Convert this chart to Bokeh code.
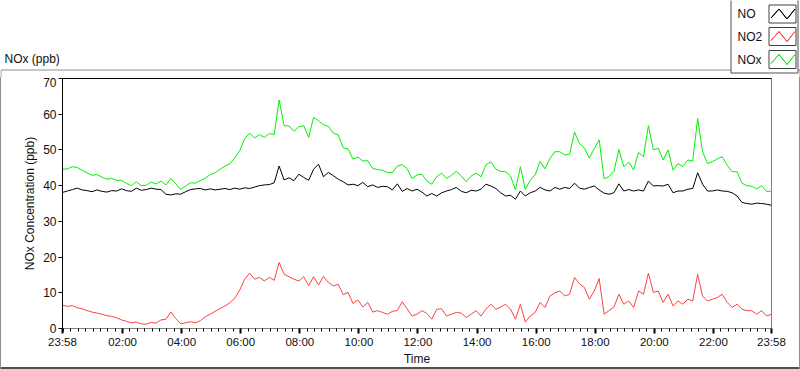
import numpy as np
from bokeh.plotting import figure
from bokeh.layouts import column
from bokeh.models import (Range1d, FixedTicker, LinearAxis, BoxAnnotation,
                          PolyAnnotation, Label)
from bokeh.embed import file_html
from bokeh.resources import INLINE

# ---------------- data ----------------
# one sample every 10 minutes, starting 23:58 (minute 0) to 23:58 next day (minute 1440)
step_minutes = 10

no = [38.1, 38.5, 38.9, 39.3, 38.8, 38.6,
      38.3, 38.8, 38.4, 38.2, 38.6, 38.5,
      39.1, 38.6, 38.4, 39.3, 38.7, 38.9,
      39.3, 39.0, 38.9, 37.6, 37.4, 37.7,
      37.6, 38.3, 38.9, 39.1, 39.2, 38.8,
      39.1, 38.8, 39.0, 39.2, 38.9, 39.3,
      39.0, 39.4, 39.2, 39.6, 40.0, 40.2,
      40.3, 40.8, 45.5, 41.6, 42.2, 41.4,
      43.2, 42.3, 41.5, 44.6, 46.0, 42.5,
      43.7, 42.8, 41.8, 41.1, 40.2, 40.4,
      40.0, 40.9, 39.7, 40.2, 39.5, 39.8,
      39.7, 38.8, 40.5, 38.4, 39.2, 38.5,
      39.0, 38.2, 37.1, 37.8, 37.1, 38.0,
      38.5, 38.9, 39.5, 38.4, 38.0, 38.7,
      38.5, 39.0, 40.4, 39.9, 39.2, 38.0,
      37.1, 37.3, 36.2, 38.5, 37.1, 38.0,
      38.5, 39.5, 38.8, 38.5, 39.5, 39.0,
      39.5, 39.2, 40.7, 39.3, 39.0, 39.5,
      39.9, 38.8, 37.9, 37.6, 38.0, 40.5,
      38.5, 38.9, 38.5, 38.8, 38.5, 41.3,
      39.9, 40.0, 39.9, 40.4, 38.0, 38.5,
      38.5, 39.0, 39.2, 43.6, 40.4, 38.5,
      38.5, 38.8, 38.5, 38.4, 38.0, 37.1,
      35.3, 35.0, 34.8, 35.1, 35.0, 34.8,
      34.5]

no2 = [6.5, 6.2, 6.4, 5.8, 5.5, 5.0,
       4.6, 4.3, 4.0, 3.6, 3.4, 3.0,
       2.4, 2.0, 1.6, 1.8, 1.3, 1.2,
       1.7, 1.5, 2.4, 2.6, 4.6, 2.8,
       1.3, 1.6, 1.9, 1.6, 2.2, 3.3,
       4.0, 4.8, 5.6, 6.3, 7.2, 8.5,
       10.8, 13.8, 15.5, 13.8, 14.3, 13.3,
       14.3, 13.5, 18.5, 15.2, 14.5, 13.8,
       13.3, 14.5, 12.0, 14.5, 12.2, 14.6,
       12.9, 11.9, 12.4, 9.5, 10.1, 7.0,
       8.0, 6.0, 7.3, 4.6, 5.0, 4.5,
       4.0, 4.8, 5.0, 7.5, 5.5, 3.5,
       4.0, 5.0, 4.2, 2.6, 5.4, 5.5,
       3.5, 4.0, 4.5, 4.3, 3.1, 4.0,
       5.0, 3.5, 5.4, 6.8, 5.4, 6.0,
       6.8, 5.4, 2.6, 6.8, 1.8, 3.5,
       4.5, 7.3, 5.9, 9.1, 10.0, 10.5,
       9.1, 9.6, 14.3, 12.5, 11.5, 8.2,
       10.5, 14.0, 4.0, 5.0, 6.0, 9.6,
       6.8, 7.7, 5.9, 10.5, 9.6, 15.5,
       10.1, 10.5, 7.3, 9.6, 6.3, 7.7,
       6.8, 8.2, 7.7, 15.2, 9.1, 7.7,
       8.2, 8.7, 9.6, 7.3, 5.9, 6.8,
       5.4, 5.0, 5.0, 4.0, 5.0, 3.5,
       4.0]

nox = [44.6, 44.7, 45.3, 45.1, 44.3, 43.6,
       42.9, 43.1, 42.4, 41.8, 42.0, 41.5,
       41.5, 40.6, 40.0, 41.1, 40.0, 40.1,
       41.0, 40.5, 41.3, 40.2, 42.0, 40.5,
       38.9, 39.9, 40.8, 40.7, 41.4, 42.1,
       43.1, 43.6, 44.6, 45.5, 46.1, 47.8,
       49.8, 53.2, 54.7, 53.4, 54.3, 53.5,
       54.6, 54.3, 64.0, 56.8, 56.7, 55.2,
       56.5, 56.8, 53.5, 59.1, 58.2, 57.1,
       56.6, 54.7, 54.2, 50.6, 50.3, 47.4,
       48.0, 46.9, 47.0, 44.8, 44.5, 44.3,
       43.7, 43.6, 45.5, 45.9, 44.7, 42.0,
       43.0, 43.2, 41.3, 40.4, 42.5, 43.5,
       42.0, 42.9, 44.0, 42.7, 41.1, 42.7,
       43.5, 42.5, 45.8, 46.7, 44.6, 44.0,
       43.9, 42.7, 38.8, 45.3, 38.9, 41.5,
       43.0, 46.8, 44.7, 47.6, 49.5, 49.5,
       48.6, 48.8, 55.0, 51.8, 50.5, 47.7,
       50.4, 52.8, 41.9, 42.6, 44.0, 50.1,
       45.3, 46.6, 44.4, 49.3, 48.1, 56.8,
       50.0, 50.5, 47.2, 50.0, 44.3, 46.2,
       45.3, 47.2, 46.9, 58.8, 49.5, 46.2,
       46.7, 47.5, 48.1, 45.7, 43.9, 43.9,
       40.7, 40.0, 39.8, 39.1, 40.0, 38.3,
       38.5]

series_names = ["NO", "NO2", "NOx"]
series_colors = ["#000000", "#ff4040", "#00f000"]

tick_minutes = [0, 122, 242, 362, 482, 602, 722, 842, 962, 1082, 1202, 1322, 1440]
tick_labels = ["23:58", "02:00", "04:00", "06:00", "08:00", "10:00", "12:00",
               "14:00", "16:00", "18:00", "20:00", "22:00", "23:58"]
y_ticks = [0, 10, 20, 30, 40, 50, 60, 70]

FONT = "Liberation Sans"
TXT = "#101010"
W = 800
TOP_H = 77
MAIN_H = 292

# ---------------- header strip: caption + legend ----------------
head = figure(width=W, height=TOP_H, output_backend="svg", toolbar_location=None,
              x_range=Range1d(0, 1), y_range=Range1d(0, 1),
              x_axis_type=None, y_axis_type=None,
              min_border_left=0, min_border_right=0, min_border_top=0, min_border_bottom=0)
head.frame_align = False
head.grid.visible = False
head.outline_line_color = None
head.background_fill_color = "white"
head.border_fill_color = "white"


def canvas_kw(**kw):
    base = dict(left_units="canvas", right_units="canvas",
                top_units="canvas", bottom_units="canvas")
    base.update(kw)
    return base


head.add_layout(Label(x=4, y=58, x_units="canvas", y_units="canvas",
                      text="NOx (ppb)", text_font=FONT, text_font_size="12px",
                      text_color=TXT, text_baseline="middle", text_align="left"))

# outer frame: top edge and the upper part of its side edges
head.add_layout(BoxAnnotation(**canvas_kw(left=0.5, right=799.5, top=69.5, bottom=100),
                              fill_alpha=0, line_color="#909090", line_alpha=1, line_width=1))

# legend panel
head.add_layout(BoxAnnotation(**canvas_kw(left=730.5, right=797.5, top=-2, bottom=72.5),
                              fill_color="white", fill_alpha=1,
                              line_color="#505050", line_alpha=1, line_width=1))

legend_rows = [13.5, 36, 59]
for name, col, yc in zip(series_names, series_colors, legend_rows):
    head.add_layout(Label(x=737, y=yc, x_units="canvas", y_units="canvas",
                          text=name, text_font=FONT, text_font_size="12px",
                          text_color=TXT, text_baseline="middle", text_align="left"))
    x0, y0 = 768.5, yc - 9
    head.add_layout(BoxAnnotation(**canvas_kw(left=x0, right=x0 + 27, top=y0, bottom=y0 + 18),
                                  fill_color="white", fill_alpha=1,
                                  line_color="#404040", line_alpha=1, line_width=1))
    zx = [x0 + 2, x0 + 10, x0 + 18, x0 + 26, x0 + 18, x0 + 10]
    zy = [y0 + 13, y0 + 4, y0 + 14, y0 + 4, y0 + 14, y0 + 4]
    head.add_layout(PolyAnnotation(xs=zx, ys=zy, xs_units="canvas", ys_units="canvas",
                                   fill_alpha=0, line_color=col, line_alpha=1, line_width=1))

# ---------------- main chart ----------------
p = figure(width=W, height=MAIN_H, output_backend="svg", toolbar_location=None,
           x_range=Range1d(0, 1440), y_range=Range1d(0, 70),
           min_border_left=62, min_border_right=29,
           min_border_top=1, min_border_bottom=41,
           x_axis_label="Time", y_axis_label="NOx Concentration (ppb)")
p.frame_align = False
p.grid.visible = False
p.background_fill_color = "white"
p.border_fill_color = None
p.outline_line_color = "#808080"
p.outline_line_width = 1
p.styles = {"box-shadow": "inset 1px 0 0 #909090, inset -1px 0 0 #909090, inset 0 -2px 0 #505050",
            "background-color": "white"}

xa = p.xaxis[0]
xa.ticker = FixedTicker(ticks=tick_minutes, minor_ticks=list(range(2, 1441, 15)))
xa.major_label_overrides = dict(zip(tick_minutes, tick_labels))
xa.axis_line_color = "#808080"
xa.major_tick_line_color = "black"
xa.major_tick_line_width = 2
xa.major_tick_in = 0
xa.major_tick_out = 5
xa.minor_tick_line_color = "black"
xa.minor_tick_in = 0
xa.minor_tick_out = 3
xa.major_label_text_font = FONT
xa.major_label_text_font_size = "11.5px"
xa.major_label_text_color = TXT
xa.major_label_standoff = 2
xa.axis_label_text_font = FONT
xa.axis_label_text_font_size = "12px"
xa.axis_label_text_font_style = "normal"
xa.axis_label_text_color = TXT
xa.axis_label_standoff = 1

ya = p.yaxis[0]
ya.ticker = FixedTicker(ticks=y_ticks, minor_ticks=[])
ya.axis_line_color = "black"
ya.major_tick_line_color = "black"
ya.major_tick_in = 0
ya.major_tick_out = 4
ya.minor_tick_line_color = None
ya.major_label_text_font = FONT
ya.major_label_text_font_size = "12px"
ya.major_label_text_color = TXT
ya.major_label_standoff = 2
ya.axis_label_text_font = FONT
ya.axis_label_text_font_size = "12px"
ya.axis_label_text_font_style = "normal"
ya.axis_label_text_color = TXT
ya.axis_label_standoff = 3

top_axis = LinearAxis(ticker=FixedTicker(ticks=[]), axis_line_color="black",
                      major_tick_line_color=None, minor_tick_line_color=None,
                      major_label_text_font_size="0px")
p.add_layout(top_axis, "above")

minutes = np.arange(len(no)) * step_minutes
for vals, col in zip([no, no2, nox], series_colors):
    p.line(minutes, vals, line_color=col, line_width=1)

layout = column(head, p, spacing=0)
open("out.html", "w").write(file_html(layout, INLINE))
